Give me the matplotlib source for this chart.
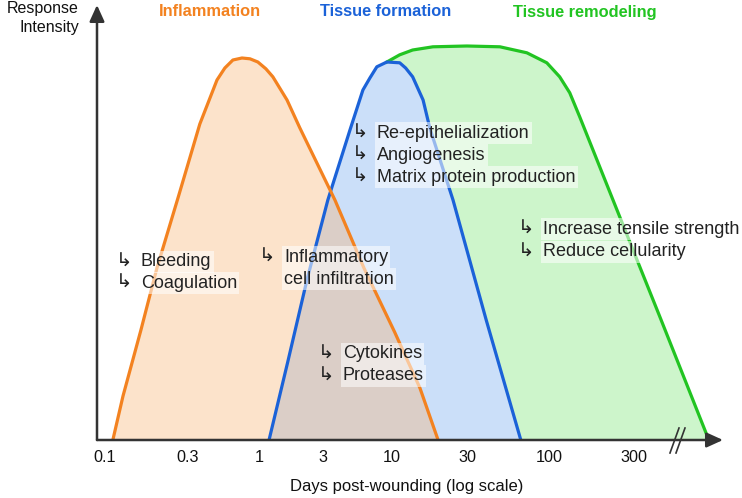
import numpy as np
import matplotlib
matplotlib.use("Agg")
import matplotlib.pyplot as plt

W, H = 742, 498

# x axis (days post-wounding), labels as printed under the axis
TICK_DAYS = [0.1, 0.3, 1, 3, 10, 30, 100, 300]
TICK_LABELS = ["0.1", "0.3", "1", "3", "10", "30", "100", "300"]
# where each label sits along the axis (px) - the drawing is not a true log axis
TICK_POS = [105, 188, 259, 323, 392, 468, 549, 634]

# phase curves: days / response intensity
infl_days = [0.111, 0.127, 0.161, 0.199, 0.265, 0.367, 0.491, 0.561, 0.643, 0.750,
             0.859, 0.982, 1.127, 1.27, 1.62, 2.02, 3.70, 6.14, 10.4, 15.0, 19.5]
infl_int = [0, 11, 27.5, 43, 61, 79, 90, 93, 95, 95.5,
            95.3, 94.5, 92.8, 90.8, 85, 78, 60, 43, 27, 13, 0]

form_days = [1.19, 1.64, 2.28, 3.27, 4.81, 6.03, 6.81, 7.69, 9.16, 11.2,
             12.2, 13.5, 15.7, 17.3, 24.2, 39.4, 65.9]
form_int = [0, 19.5, 40, 60, 77.5, 87.5, 90.5, 93.3, 94.5, 94.3,
            93, 90.8, 85, 78, 60, 30, 0]

remod_days = [9.16, 11.2, 13.5, 18.1, 29.6, 48.3, 72.1, 97.0, 115, 131, 149, 250, 420, 791]
remod_int = [94.5, 96.3, 97.5, 98.3, 98.5, 98.3, 96.8, 94.3, 90.8, 86.8, 80.8, 55.8, 30.8, 0]

titles = ["Inflammation", "Tissue formation", "Tissue remodeling"]

# notes: (arrow?, text)
notes = [(True, "Bleeding"), (True, "Coagulation"),
         (True, "Inflammatory"), (False, "cell infiltration"),
         (True, "Cytokines"), (True, "Proteases"),
         (True, "Re-epithelialization"), (True, "Angiogenesis"),
         (True, "Matrix protein production"),
         (True, "Increase tensile strength"), (True, "Reduce cellularity")]
note_xy = [(141, 262), (141, 283), (284, 257), (284, 279), (343, 354), (343, 376),
           (377, 133), (377, 155), (377, 177), (543, 229), (543, 252)]

ORANGE = "#f38220"
BLUE = "#1b62d8"
GREEN = "#22c422"

LOG_T = np.log10(TICK_DAYS)
S_LO = (TICK_POS[1] - TICK_POS[0]) / (LOG_T[1] - LOG_T[0])
S_HI = (TICK_POS[-1] - TICK_POS[-2]) / (LOG_T[-1] - LOG_T[-2])


def fwd(d):
    d = np.asarray(d, dtype=float)
    ld = np.log10(np.maximum(d, 1e-9))
    p = np.interp(ld, LOG_T, TICK_POS)
    p = np.where(ld < LOG_T[0], TICK_POS[0] + (ld - LOG_T[0]) * S_LO, p)
    p = np.where(ld > LOG_T[-1], TICK_POS[-1] + (ld - LOG_T[-1]) * S_HI, p)
    return p


def inv(p):
    p = np.asarray(p, dtype=float)
    ld = np.interp(p, TICK_POS, LOG_T)
    ld = np.where(p < TICK_POS[0], LOG_T[0] + (p - TICK_POS[0]) / S_LO, ld)
    ld = np.where(p > TICK_POS[-1], LOG_T[-1] + (p - TICK_POS[-1]) / S_HI, ld)
    return 10 ** ld


def fx(x):
    return x / W


def fy(y):
    return 1 - y / H


plt.rcParams['font.family'] = ['Liberation Sans', 'DejaVu Sans']

fig = plt.figure(figsize=(W / 100, H / 100), dpi=100)
ax = fig.add_axes([fx(97), fy(440), (723 - 97) / W, (440 - 5) / H])
ax.set_xscale('function', functions=(fwd, inv))
ax.set_xlim(0.09, 950)
ax.set_ylim(0, 108.75)

# fills: green under, blue opaque, orange translucent so the overlap goes brownish
ax.fill_between(remod_days, remod_int, 0, color="#cdf5cb", lw=0, zorder=1)
ax.fill_between(form_days, form_int, 0, color="#cbdff9", lw=0, zorder=2)
ax.fill_between(infl_days, infl_int, 0, color="#f9af6a", alpha=0.35, lw=0, zorder=3)

ax.plot(remod_days, remod_int, color=GREEN, lw=2.3, solid_joinstyle='round', zorder=4)
ax.plot(form_days, form_int, color=BLUE, lw=2.3, solid_joinstyle='round', zorder=5)
ax.plot(infl_days, infl_int, color=ORANGE, lw=2.3, solid_joinstyle='round', zorder=6)

for s in ax.spines.values():
    s.set_visible(False)
ax.set_yticks([])
ax.set_xticks(TICK_DAYS)
ax.set_xticklabels(TICK_LABELS, fontsize=11.7, color="#111111")
ax.xaxis.set_minor_locator(matplotlib.ticker.NullLocator())
ax.tick_params(axis='x', length=0, pad=7)
ax.patch.set_alpha(0)

# axis arrows
arr = dict(arrowstyle='-|>,head_length=0.55,head_width=0.25', color="#333333",
           lw=1.8, shrinkA=0, shrinkB=0, mutation_scale=18)
ax.annotate('', xy=(1, 0), xytext=(0, 0), xycoords='axes fraction', arrowprops=arr, zorder=10)
ax.annotate('', xy=(0, 1), xytext=(0, 0), xycoords='axes fraction', arrowprops=arr, zorder=10)


# axis break "//"
def axf(px, py):
    return (px - 97) / 626, (440 - py) / 435


for x0, x1 in [(670, 679), (676, 685)]:
    a = axf(x0, 453)
    b = axf(x1, 428)
    ax.plot([a[0], b[0]], [a[1], b[1]], color="#333333", lw=1.2,
            transform=ax.transAxes, clip_on=False, zorder=11)

# labels
fig.text(fx(79), fy(18), "Response\nIntensity", ha='right', va='center',
         fontsize=11.5, color="#111111", linespacing=1.3, multialignment='right')
fig.text(fx(407), fy(486), "Days post-wounding (log scale)", ha='center', va='center',
         fontsize=12, color="#111111")

for t, c, xc in zip(titles, [ORANGE, BLUE, GREEN], [210, 386, 585]):
    fig.text(fx(xc), fy(12), t, ha='center', va='center', fontsize=11.8,
             fontweight='bold', color=c)

for (has_arrow, t), (x, y) in zip(notes, note_xy):
    fig.text(fx(x), fy(y), t, ha='left', va='center', fontsize=13, color="#222222",
             bbox=dict(boxstyle='square,pad=0.12', fc='white', ec='none', alpha=0.55),
             zorder=20)
    if has_arrow:
        fig.text(fx(x - 17), fy(y - 1), "\u21b3", ha='center', va='center',
                 fontsize=14, color="#222222", family=['DejaVu Sans'], zorder=20)

fig.savefig("out.png", dpi=100)
